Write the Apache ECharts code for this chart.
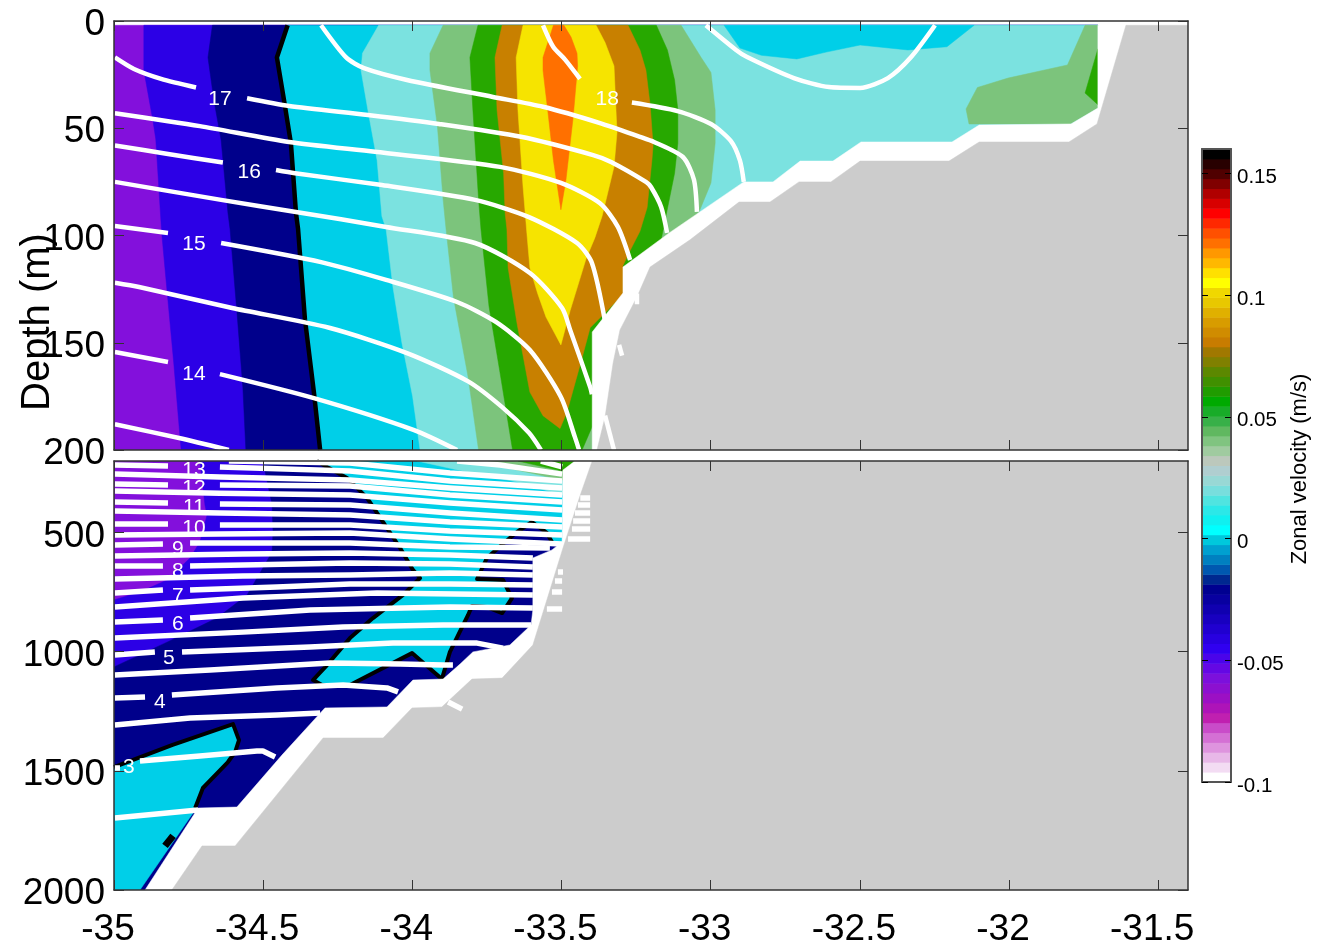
<!DOCTYPE html>
<html><head><meta charset="utf-8">
<style>html,body{margin:0;padding:0;background:#fff}#c{width:1325px;height:946px}</style>
<script src="https://cdn.jsdelivr.net/npm/echarts@6/dist/echarts.min.js"></script>
</head><body><div id="c"></div>
<script>
// ---------- tick labels ----------
const lonTicks = [-35,-34.5,-34,-33.5,-33,-32.5,-32,-31.5];
const topDepthTicks = [0,50,100,150,200];
const lowDepthTicks = [500,1000,1500,2000];
const barTicks = [-0.1,-0.05,0,0.05,0.1,0.15];
// ---------- colour scale, bottom to top ----------
const barColors = ['#ffffff','#f3dcf3','#e8b8e8','#de94de','#d470d4','#c94cc9','#c020b0','#ae14b8','#9c10c4','#8c10d0','#7c10dc','#6408e4','#4a04ea','#3000f0','#2800e0','#2000d0','#1800c0','#1000b0','#0800a0','#000090','#002890','#0058b0','#0080c0','#00a0d0','#00c8dc','#00ffff','#10f0f0','#2ce8e8','#50e4e0','#78dedd','#98d8d5','#b0ced0','#bcc8bc','#a0cba0','#80c480','#60b860','#38b048','#18ac28','#00aa00','#209c00','#409000','#5c8800','#808000','#a07800','#c87c00','#d08c00','#d89c00','#e0b000','#e8c800','#f0d800','#ffff00','#ffe000','#ffb800','#ff9800','#ff7000','#ff5000','#ff2800','#ff0000','#d80000','#b00000','#800000','#500000','#280000','#000000'];
// ---------- upper panel contour bands [lon, depth] ----------
const pbTop = [[-34.90,2],[-34.90,23],[-34.87,46],[-34.86,55],[-34.84,99],[-34.82,129],[-34.80,159],[-34.775,200]];
const bnTop = [[-34.67,2],[-34.685,17],[-34.665,37],[-34.641,55.5],[-34.618,89.5],[-34.611,97],[-34.586,139],[-34.568,171],[-34.558,200]];
const zeroTop = [[-34.418,2],[-34.454,17],[-34.430,37],[-34.407,57],[-34.390,89.5],[-34.383,97],[-34.360,139],[-34.330,173],[-34.309,200]];
const clTop = [[-34.113,2],[-34.167,15],[-34.172,23],[-34.149,41.5],[-34.118,65],[-34.102,91],[-34.088,97],[-34.065,124],[-34.035,150],[-33.999,175],[-33.974,200]];
const llgTopLeft = [[-33.897,2],[-33.941,15],[-33.941,23],[-33.916,49],[-33.897,83],[-33.887,97],[-33.862,129],[-33.813,166],[-33.778,200]];
const llgTopRight = [[-33.039,89],[-32.999,75.5],[-32.985,57],[-32.985,41.5],[-32.999,24],[-33.032,17],[-33.099,2]];
const llgTopLow = [[-33.397,200],[-33.371,149],[-33.103,102]];
const lgGreenLeft = [[-33.780,2],[-33.807,17],[-33.797,41.5],[-33.778,83],[-33.770,97],[-33.743,133],[-33.706,164],[-33.664,200]];
const lgGreenRight = [[-33.431,200],[-33.397,189],[-33.387,149],[-33.287,130],[-33.169,104],[-33.153,93],[-33.121,71],[-33.110,57],[-33.110,41.5],[-33.121,27.5],[-33.145,13.5],[-33.182,2]];
const brownArea = [[-33.699,2],[-33.723,17],[-33.716,41.5],[-33.694,71],[-33.689,89.5],[-33.683,97],[-33.679,115],[-33.649,141],[-33.606,173],[-33.562,184],[-33.505,190],[-33.481,182],[-33.431,157],[-33.404,143],[-33.304,129],[-33.294,127],[-33.294,114],[-33.270,107],[-33.237,98],[-33.213,87],[-33.197,65],[-33.193,58],[-33.203,39],[-33.217,23],[-33.237,13.5],[-33.277,2]];
const yellowArea = [[-33.629,2],[-33.652,17],[-33.646,41.5],[-33.629,77],[-33.616,99],[-33.606,115],[-33.580,127],[-33.552,138],[-33.502,151],[-33.471,135],[-33.418,111],[-33.388,101],[-33.364,91],[-33.324,68],[-33.314,52],[-33.324,21],[-33.354,10],[-33.384,2]];
const orangeArea = [[-33.527,2],[-33.562,17],[-33.562,23],[-33.545,43],[-33.527,65],[-33.502,88],[-33.485,74],[-33.461,45],[-33.446,21],[-33.448,15],[-33.468,7.5],[-33.492,2]];
const cyanPatch = [[-32.955,2],[-32.902,12.6],[-32.830,16],[-32.711,17.7],[-32.613,14.5],[-32.499,11.2],[-32.339,13.5],[-32.208,12],[-32.117,2]];
const lgPatch = [[-31.745,2],[-31.804,20.5],[-32.003,26.6],[-32.106,31],[-32.144,41],[-32.134,48],[-31.795,48],[-31.702,40.6],[-31.702,2]];
const greenPatch = [[-31.702,13],[-31.745,33.6],[-31.702,39]];
const dataEdgeTop = [[-31.702,2],[-31.702,40.6],[-31.792,48],[-32.100,48.5],[-32.191,56.4],[-32.496,56.4],[-32.590,65.3],[-32.700,65.3],[-32.791,75],[-32.889,75],[-33.139,98.8],[-33.294,114.7],[-33.294,126.8],[-33.397,145],[-33.397,200]];
const seabedTop = [[-31.608,2],[-31.705,48],[-31.799,56.4],[-32.100,56.4],[-32.201,65.3],[-32.499,65.3],[-32.597,75],[-32.704,75],[-32.801,84.4],[-32.905,84.4],[-33.069,102],[-33.203,114.7],[-33.247,128.7],[-33.304,144],[-33.327,159.4],[-33.354,184.6],[-33.381,200]];
// ---------- lower panel contour bands ----------
const pbLow = [[-34.712,200],[-34.695,385],[-34.688,427],[-34.712,540],[-34.745,607],[-34.822,699],[-34.913,750],[-35,783]];
const bnLow = [[-34.501,200],[-34.470,385],[-34.467,498],[-34.470,582],[-34.501,649],[-34.554,762],[-34.655,859],[-34.822,960],[-35,1064]];
const zeroLowA = [[-34.320,200],[-34.286,225],[-34.219,271],[-34.152,355],[-34.098,456],[-34.041,565],[-33.998,657],[-33.974,691],[-34.031,762],[-34.132,859],[-34.209,943],[-34.286,1056],[-34.333,1119],[-34.303,1140],[-34.209,1140],[-34.001,1006],[-33.901,1115],[-33.874,1001],[-33.813,846],[-33.800,808],[-33.750,813],[-33.699,838],[-33.666,775],[-33.683,733],[-33.696,699],[-33.783,695],[-33.750,607],[-33.689,540],[-33.649,498],[-33.599,456],[-33.549,502],[-33.532,540]];
const cyanLowClose = [[-33.498,540],[-33.404,540],[-33.404,200]];
const zeroLowB = [[-35,1484],[-34.806,1392],[-34.601,1304],[-34.581,1371],[-34.594,1421],[-34.618,1463],[-34.702,1572],[-34.728,1656]];
const cyanLowBClose = [[-34.728,1664],[-34.913,2000],[-35,2000]];
const zeroLowC = [[-34.802,1773],[-34.829,1815]];
const lightLow = [[-33.984,200],[-33.817,246],[-33.649,288],[-33.498,343],[-33.404,343],[-33.404,200]];
const lgLow = [[-33.790,200],[-33.649,238],[-33.498,280],[-33.404,280],[-33.404,200]];
const greenLow = [[-33.646,200],[-33.498,242],[-33.461,208],[-33.461,200]];
const dataEdgeLow = [[-33.455,200],[-33.495,238],[-33.498,540],[-33.532,573],[-33.596,607],[-33.596,825],[-33.602,888],[-33.673,972],[-33.797,1001],[-33.840,1052],[-33.897,1115],[-33.998,1119],[-34.085,1232],[-34.293,1236],[-34.437,1434],[-34.588,1652],[-34.718,1656],[-34.896,2000]];
const seabedLow = [[-33.397,200],[-33.437,343],[-33.495,565],[-33.596,972],[-33.699,1111],[-33.800,1115],[-33.901,1232],[-34.001,1236],[-34.098,1362],[-34.299,1362],[-34.594,1815],[-34.705,1815],[-34.806,2000]];
// ---------- temperature contours, upper panel ----------
const tTop = [
 [[-33.562,2],[-33.528,12],[-33.488,18],[-33.438,27]],
 [[-33.264,38],[-33.111,42],[-32.999,48],[-32.932,56],[-32.902,65],[-32.889,75]],
 [[-33.016,2],[-32.915,13.5],[-32.878,16.8],[-32.721,26.6],[-32.603,30.8],[-32.499,31.2],[-32.406,26.6],[-32.328,16.8],[-32.248,2]],
 [[-34.306,2],[-34.222,17],[-34.162,22],[-34.018,27.5],[-33.730,35.4],[-33.562,40],[-33.371,47.6],[-33.237,54],[-33.190,56.4],[-33.093,63.4],[-33.056,74],[-33.046,89]],
 [[-34.997,17],[-34.933,22.4],[-34.842,27],[-34.725,31]],
 [[-34.554,36],[-34.413,39.6],[-34.149,43.8],[-33.911,48],[-33.636,54],[-33.394,62.5],[-33.334,65.7],[-33.217,75],[-33.200,77.4],[-33.166,86.7],[-33.146,98.8]],
 [[-34.997,43],[-34.712,49],[-34.413,56.4],[-34.125,61],[-33.706,68],[-33.502,75.5],[-33.371,85],[-33.311,96],[-33.270,111.4]],
 [[-34.997,58],[-34.819,62],[-34.635,66]],
 [[-34.457,69.5],[-34.393,71],[-34.102,76.5],[-33.790,83.4],[-33.609,91.4],[-33.448,103.5],[-33.398,112.8],[-33.354,140]],
 [[-34.997,75],[-34.641,83.4],[-34.390,89],[-34.088,96],[-33.790,103.5],[-33.606,117.5],[-33.498,133.8],[-33.471,144],[-33.404,170.6],[-33.398,174]],
 [[-34.997,95.6],[-34.819,98.8]],
 [[-34.641,103.5],[-34.306,112.4],[-34.088,120.7],[-33.850,131],[-33.720,140.3],[-33.606,153.4],[-33.502,175.3],[-33.455,194],[-33.441,200]],
 [[-34.997,122],[-34.916,124],[-34.604,133.8],[-34.279,143],[-34.018,154.8],[-33.813,168],[-33.699,180],[-33.609,192],[-33.569,200]],
 [[-34.997,154.3],[-34.819,159]],
 [[-34.645,164.6],[-34.330,175.8],[-33.994,190.7],[-33.850,200]],
 [[-34.997,188],[-34.782,194.4],[-34.615,200]],
 [[-33.354,184],[-33.324,200]],
 [[-33.247,127],[-33.247,132]],
 [[-33.307,151],[-33.297,156]]
];
// ---------- temperature contours, lower panel ----------
const tLow = [
 [[-33.569,200],[-33.498,225]],
 [[-33.85,200],[-33.706,217],[-33.498,255]],
 [[-34.615,200],[-34.209,208],[-33.874,250],[-33.498,284]],
 [[-34.997,217],[-34.819,221]],
 [[-34.645,225],[-34.209,242],[-33.874,284],[-33.498,313]],
 [[-34.997,255],[-34.645,267],[-34.209,280],[-33.874,313],[-33.498,343]],
 [[-34.997,297],[-34.819,301]],
 [[-34.645,301],[-34.209,305],[-33.874,343],[-33.498,372]],
 [[-34.997,326],[-34.645,335],[-34.209,343],[-33.874,376],[-33.498,406]],
 [[-34.997,372],[-34.819,376]],
 [[-34.645,380],[-34.209,385],[-33.874,418],[-33.498,448]],
 [[-34.997,410],[-34.645,418],[-34.209,427],[-33.874,456],[-33.498,477]],
 [[-34.997,464],[-34.819,464]],
 [[-34.645,469],[-34.209,469],[-33.874,494],[-33.498,510]],
 [[-34.997,510],[-34.645,506],[-34.209,502],[-33.874,527],[-33.498,548]],
 [[-34.997,552],[-34.836,548]],
 [[-34.745,544],[-34.209,544],[-33.874,561],[-33.539,565]],
 [[-34.997,599],[-34.568,590],[-34.209,586],[-33.874,594],[-33.596,607]],
 [[-34.997,641],[-34.836,641]],
 [[-34.745,641],[-34.209,628],[-33.874,632],[-33.596,645]],
 [[-34.997,695],[-34.568,683],[-34.209,678],[-33.874,670],[-33.596,678]],
 [[-34.997,754],[-34.836,741]],
 [[-34.745,741],[-34.454,729],[-34.209,716],[-33.874,716],[-33.596,720]],
 [[-34.997,813],[-34.568,775],[-34.118,754],[-33.596,762]],
 [[-34.997,876],[-34.836,867]],
 [[-34.745,859],[-34.343,825],[-33.874,813],[-33.596,817]],
 [[-34.997,943],[-34.568,918],[-34.232,897],[-33.897,888],[-33.602,888]],
 [[-34.997,1014],[-34.863,1001]],
 [[-34.772,1001],[-34.343,980],[-34.065,964],[-33.783,964],[-33.696,985]],
 [[-34.997,1098],[-34.678,1077],[-34.276,1048],[-34.041,1052],[-33.897,1056],[-33.864,1056]],
 [[-34.997,1194],[-34.896,1190]],
 [[-34.806,1182],[-34.454,1152],[-34.232,1140],[-34.085,1152],[-34.048,1169]],
 [[-34.997,1308],[-34.745,1278],[-34.454,1266],[-34.309,1257]],
 [[-34.997,1488],[-34.98,1488]],
 [[-34.913,1459],[-34.712,1438],[-34.521,1417],[-34.501,1417],[-34.460,1442]],
 [[-34.997,1698],[-34.718,1664]],
 [[-33.437,355],[-33.404,355]],
 [[-33.445,385],[-33.404,385]],
 [[-33.455,418],[-33.404,418]],
 [[-33.461,452],[-33.404,452]],
 [[-33.465,485],[-33.404,485]],
 [[-33.478,527],[-33.404,527]],
 [[-33.512,666],[-33.495,666]],
 [[-33.522,704],[-33.498,704]],
 [[-33.532,750],[-33.498,750]],
 [[-33.549,821],[-33.498,821]],
 [[-33.880,1211],[-33.833,1241]]
];
const labelsTop = [[-34.645,35.4,'17'],[-33.347,35.4,'18'],[-34.547,69.5,'16'],[-34.732,103,'15'],[-34.732,163.6,'14']];
const labelsLow = [[-34.732,229,'13'],[-34.732,305,'12'],[-34.732,385,'11'],[-34.732,473,'10'],[-34.786,561,'9'],[-34.786,653,'8'],[-34.786,758,'7'],[-34.786,876,'6'],[-34.816,1018,'5'],[-34.846,1203,'4'],[-34.950,1475,'3']];

// ---------- styles ----------
const C = {purple:'#8310dc',blue:'#2c00e6',navy:'#00008b',cyan:'#00cfe8',light:'#7be2e0',lg:'#7cc47c',green:'#27a800',brown:'#c88000',yellow:'#f6e400',orange:'#ff7000',gray:'#cccccc',white:'#ffffff'};
const rightT = [[-31.702,200],[-31.702,2]];
const rightL = [[-33.3,2000],[-33.3,200]];
const regionsTop = [
 [C.purple,[[-35,2],[-35,200],[-31.702,200],[-31.702,2]]],
 [C.blue,pbTop.concat(rightT)],
 [C.navy,bnTop.concat(rightT)],
 [C.cyan,zeroTop.concat(rightT)],
 [C.light,clTop.concat(rightT)],
 [C.lg,llgTopLeft.concat(llgTopLow,llgTopRight)],
 [C.green,lgGreenLeft.concat(lgGreenRight)],
 [C.brown,brownArea],[C.yellow,yellowArea],[C.orange,orangeArea],
 [C.cyan,cyanPatch],[C.lg,lgPatch],[C.green,greenPatch]
];
const maskTop = [
 [C.white,dataEdgeTop.concat([[-31.4,200],[-31.4,2]])],
 [C.gray,seabedTop.concat([[-31.4,200],[-31.4,2]])]
];
const regionsLow = [
 [C.purple,[[-35,200],[-35,2000],[-33.3,2000],[-33.3,200]]],
 [C.blue,pbLow.concat([[-35,2000]],rightL)],
 [C.navy,bnLow.concat([[-35,2000]],rightL)],
 [C.cyan,zeroLowA.concat(cyanLowClose)],
 [C.cyan,zeroLowB.concat(cyanLowBClose)],
 [C.light,lightLow],[C.lg,lgLow],[C.green,greenLow]
];
const maskLow = [
 [C.white,dataEdgeLow.concat([[-31.4,2000],[-31.4,200]])],
 [C.gray,seabedLow.concat([[-31.4,2000],[-31.4,200]])]
];
const FONT = '"Liberation Sans", Arial, sans-serif';
function polySeries(regions,xi,yi,z){
  return {type:'custom',coordinateSystem:'cartesian2d',xAxisIndex:xi,yAxisIndex:yi,z:z,clip:true,silent:true,animation:false,
    data:regions.map((r,i)=>[i]),
    renderItem:(p,api)=>{const r=regions[p.dataIndex];
      return {type:'polygon',shape:{points:r[1].map(q=>api.coord(q))},style:{fill:r[0],stroke:r[0],lineWidth:0.5}};}};
}
function lineSeries(pts,xi,yi,color,width,z,smooth){
  return {type:'line',xAxisIndex:xi,yAxisIndex:yi,data:pts,showSymbol:false,symbol:'none',silent:true,animation:false,z:z,clip:true,smooth:smooth||false,
    lineStyle:{color:color,width:width,cap:'butt',join:'round',opacity:1}};
}
function labelSeries(pts,xi,yi){
  return {type:'scatter',xAxisIndex:xi,yAxisIndex:yi,data:pts,symbolSize:1,z:7,silent:true,animation:false,
    itemStyle:{color:'transparent',opacity:1},
    label:{show:true,position:'inside',offset:[0,2],opacity:1,formatter:p=>p.value[2],color:'#ffffff',fontSize:21,fontFamily:FONT}};
}
const line = {lineStyle:{color:'#333',width:1.5}};
function xAx(grid,pos,labels){return {type:'value',gridIndex:grid,position:pos,min:-35,max:-31.4,z:10,
  axisLine:{show:true,onZero:false,...line},splitLine:{show:false},
  axisTick:{show:true,inside:true,length:10,customValues:lonTicks,lineStyle:{color:'#333',width:1}},
  axisLabel:{show:labels,customValues:lonTicks,formatter:v=>String(v),color:'#000',fontSize:37,fontFamily:FONT,margin:21,padding:[0,12,0,0],hideOverlap:false}};}
function yAx(grid,pos,labels,min,max,ticks){return {type:'value',gridIndex:grid,position:pos,min:min,max:max,inverse:true,z:10,
  axisLine:{show:true,onZero:false,...line},splitLine:{show:false},
  axisTick:{show:true,inside:true,length:10,customValues:ticks,lineStyle:{color:'#333',width:1}},
  axisLabel:{show:labels,customValues:ticks,formatter:v=>String(v),color:'#000',fontSize:37,fontFamily:FONT,margin:9,verticalAlign:'top',lineHeight:8,hideOverlap:false}};}
const barStep = (0.16+0.1)/barColors.length;
const barLine = {lineStyle:{color:'#555',width:2}};
const series = [
  polySeries(regionsTop,0,0,1),
  lineSeries(zeroTop,0,0,'#000',4.5,2),
  polySeries(maskTop,0,0,3),
  polySeries(regionsLow,2,2,1),
  lineSeries(zeroLowA,2,2,'#000',4,2),
  lineSeries(zeroLowB,2,2,'#000',4,2),
  lineSeries(zeroLowC,2,2,'#000',7,2),
  polySeries(maskLow,2,2,3),
  {type:'custom',coordinateSystem:'cartesian2d',xAxisIndex:4,yAxisIndex:4,z:2,silent:true,animation:false,
    data:barColors.map((c,i)=>[i]),
    renderItem:(p,api)=>{const i=p.dataIndex,a=api.coord([0,-0.1+i*barStep]),b=api.coord([1,-0.1+(i+1)*barStep]);
      return {type:'rect',shape:{x:a[0],y:b[1],width:b[0]-a[0],height:a[1]-b[1]+0.5},style:{fill:barColors[i]}};}},
  labelSeries(labelsTop,0,0),labelSeries(labelsLow,2,2)
];
tTop.forEach(l=>series.push(lineSeries(l,0,0,'#fff',4.5,6,0.25)));
tLow.forEach(l=>series.push(lineSeries(l,2,2,'#fff',5.5,6)));

const chart = echarts.init(document.getElementById('c'),null,{renderer:'canvas'});
chart.setOption({
  animation:false,backgroundColor:'#fff',
  grid:[{left:114,top:21,width:1074,height:429,outerBoundsMode:'none'},{left:114,top:461,width:1074,height:429,outerBoundsMode:'none'},{left:1202,top:149,width:29,height:633,outerBoundsMode:'none'}],
  xAxis:[xAx(0,'bottom',false),xAx(0,'top',false),xAx(1,'bottom',true),xAx(1,'top',false),
    {type:'value',gridIndex:2,min:0,max:1,position:'bottom',z:10,axisLine:{show:true,onZero:false,...barLine},axisTick:{show:false},axisLabel:{show:false},splitLine:{show:false}},
    {type:'value',gridIndex:2,min:0,max:1,position:'top',z:10,axisLine:{show:true,onZero:false,...barLine},axisTick:{show:false},axisLabel:{show:false},splitLine:{show:false}}],
  yAxis:[yAx(0,'left',true,0,200,topDepthTicks),yAx(0,'right',false,0,200,topDepthTicks),yAx(1,'left',true,200,2000,lowDepthTicks),yAx(1,'right',false,200,2000,lowDepthTicks),
    {type:'value',gridIndex:2,min:-0.1,max:0.16,position:'right',z:10,axisLine:{show:true,onZero:false,...barLine},splitLine:{show:false},
      axisTick:{show:true,inside:true,length:6,customValues:barTicks,lineStyle:{color:'#000',width:1}},
      axisLabel:{customValues:barTicks,formatter:v=>String(v),color:'#000',fontSize:20.5,fontFamily:FONT,margin:6,verticalAlign:'top',lineHeight:8,hideOverlap:false}},
    {type:'value',gridIndex:2,min:-0.1,max:0.16,position:'left',z:10,axisLine:{show:true,onZero:false,...barLine},splitLine:{show:false},
      axisTick:{show:true,inside:true,length:6,customValues:barTicks,lineStyle:{color:'#000',width:1}},
      axisLabel:{show:false}}],
  graphic:[
    {type:'text',x:38,y:322,rotation:Math.PI/2,z:20,style:{text:'Depth (m)',font:'40px '+FONT,fill:'#000',align:'center',verticalAlign:'middle'}},
    {type:'text',x:1300,y:469,rotation:Math.PI/2,z:20,style:{text:'Zonal velocity (m/s)',font:'22px '+FONT,fill:'#000',align:'center',verticalAlign:'middle'}}
  ],
  series:series
});
</script></body></html>
